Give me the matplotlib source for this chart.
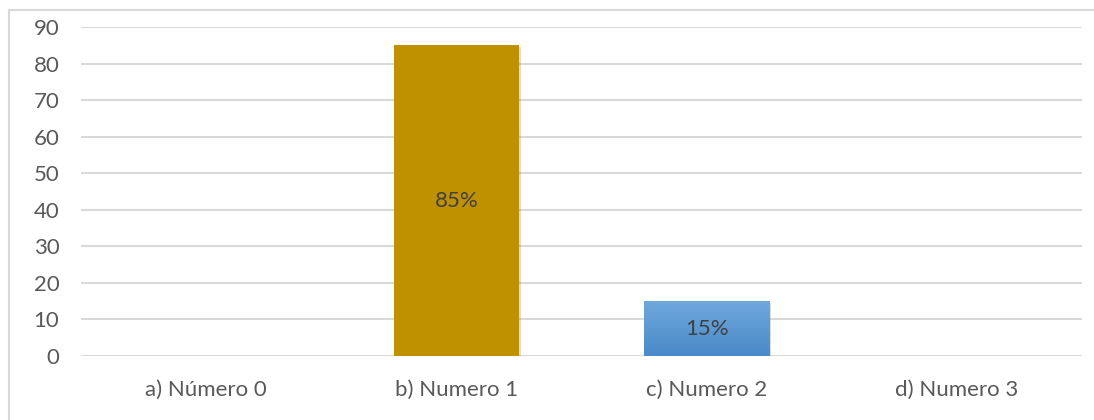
import matplotlib
matplotlib.use('Agg')
import matplotlib.pyplot as plt
import matplotlib.patheffects as pe
from matplotlib.patches import Rectangle
from matplotlib.colors import LinearSegmentedColormap
import numpy as np

plt.rcParams['font.family'] = ['Lato', 'DejaVu Sans']

categorias = ['a) Número 0', 'b) Numero 1', 'c) Numero 2', 'd) Numero 3']
valores = [0, 85, 15, 0]
etiquetas = ['', '85%', '15%', '']
colores = ['#BF9000', '#BF9000', '#5B9BD5', '#5B9BD5']

fig = plt.figure(figsize=(10.94, 4.2), dpi=100)
ax = fig.add_axes([0.074, 0.1524, 0.915, 0.7833])

# marco exterior del gráfico
fig.patches.append(Rectangle((9 / 1094, -0.1), 1.2, 0.1 + 1 - 10 / 420,
                             transform=fig.transFigure, fill=False,
                             ec='#D9D9D9', lw=1.5))

x = np.arange(len(categorias))
sombra = [pe.SimplePatchShadow(offset=(1.5, -1.5), shadow_rgbFace='#8C8C8C', alpha=0.3), pe.Normal()]
barras = ax.bar(x, valores, width=0.5, color=colores, zorder=3)
for b, v in zip(barras, valores):
    if v > 0:
        b.set_path_effects(sombra)

# degradado para la barra azul
grad = LinearSegmentedColormap.from_list('azul', ['#4A8AC9', '#6FA8DC'])
b = barras[2]
img = ax.imshow(np.linspace(0, 1, 100).reshape(-1, 1), cmap=grad, origin='lower',
                extent=[b.get_x(), b.get_x() + b.get_width(), 0, b.get_height()],
                aspect='auto', zorder=4)
img.set_clip_path(b)

for b, t in zip(barras, etiquetas):
    if t:
        ax.text(b.get_x() + b.get_width() / 2, b.get_height() / 2, t,
                ha='center', va='center', fontsize=16, color='#404040', zorder=5)

ax.set_xlim(-0.5, 3.5)
ax.set_ylim(0, 90)
ax.set_yticks(range(0, 91, 10))
ax.set_xticks(x)
ax.set_xticklabels(categorias)
ax.tick_params(length=0, labelsize=16, labelcolor='#595959')
ax.tick_params(axis='y', pad=15.5)
ax.tick_params(axis='x', pad=17)
ax.grid(axis='y', color='#D9D9D9', lw=1.5, zorder=0)
ax.set_axisbelow(True)
for s in ax.spines.values():
    s.set_visible(False)

fig.savefig('out.png', dpi=100)
